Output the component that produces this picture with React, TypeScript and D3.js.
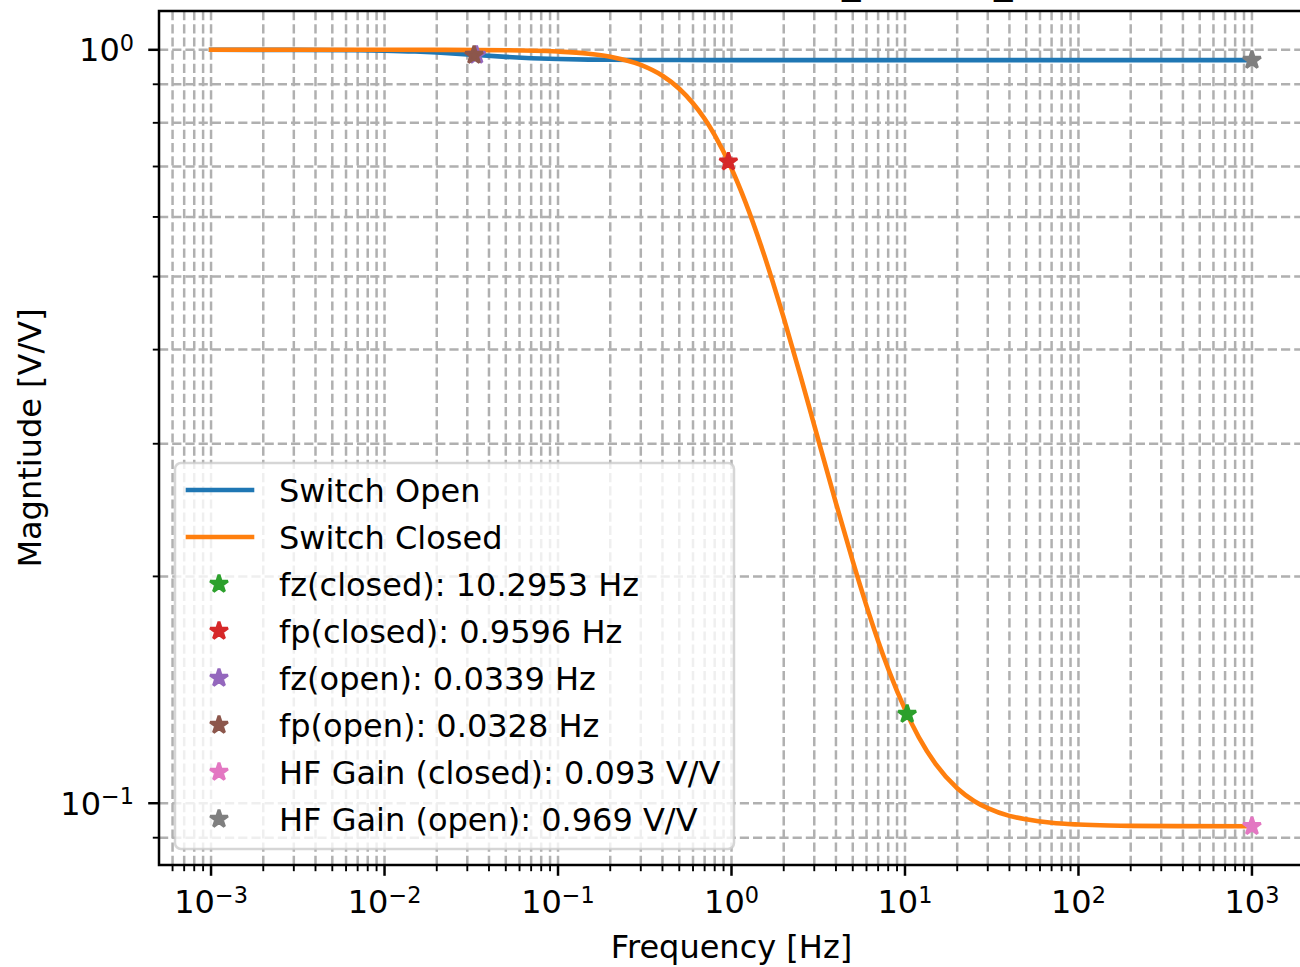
import React from 'react';
import * as d3 from 'd3';

// Switch Open response
const freqOpen = [0.001, 0.003, 0.007, 0.01, 0.015, 0.02, 0.03, 0.0339, 0.05, 0.07, 0.1, 0.15, 0.2, 0.5, 1, 10, 100, 1000];
const magOpen = [1.0, 0.9998, 0.9987, 0.9974, 0.9947, 0.9917, 0.986, 0.9841, 0.9785, 0.9747, 0.9721, 0.9705, 0.9699, 0.9692, 0.969, 0.969, 0.969, 0.969];

// Switch Closed response (orange curve)
const freqClosed = [0.001, 0.01, 0.05, 0.1, 0.15, 0.2, 0.3, 0.4, 0.5, 0.7, 0.8, 1, 1.2, 1.5, 2, 2.5, 3, 4, 5, 6, 7, 8, 10, 12, 15, 20, 25, 30, 40, 50, 70, 100, 150, 200, 1000];
const magClosed = [1.0, 1.0, 0.9987, 0.9946, 0.9881, 0.9791, 0.9548, 0.9237, 0.8879, 0.8098, 0.7704, 0.6957, 0.6288, 0.5446, 0.4407, 0.3688, 0.3173, 0.2503, 0.2095, 0.1828, 0.1642, 0.1508, 0.1332, 0.1224, 0.1128, 0.1047, 0.1007, 0.0985, 0.0962, 0.0952, 0.0942, 0.0937, 0.0934, 0.0933, 0.0932];

// star markers
const markerLabels = ['fz(closed): 10.2953 Hz', 'fp(closed): 0.9596 Hz', 'fz(open): 0.0339 Hz', 'fp(open): 0.0328 Hz', 'HF Gain (closed): 0.093 V/V', 'HF Gain (open): 0.969 V/V'];
const markerFreq = [10.2953, 0.9596, 0.0339, 0.0328, 1000, 1000];
const markerMag = [0.1313, 0.7102, 0.9841, 0.9839, 0.0932, 0.969];
const markerColors = ['#2ca02c', '#d62728', '#9467bd', '#8c564b', '#e377c2', '#7f7f7f'];

const xTickExp = [-3, -2, -1, 0, 1, 2, 3];
const yTickExp = [-1, 0];

const FONT = '"DejaVu Sans", Verdana, sans-serif';
const FS = 32;
const GRID = '#b0b0b0';

const starPath = (R: number) => {
  const pts: [number, number][] = [];
  for (let i = 0; i < 10; i++) {
    const r = i % 2 === 0 ? R : R * 0.381966;
    const a = -Math.PI / 2 + (i * Math.PI) / 5;
    pts.push([r * Math.cos(a), r * Math.sin(a)]);
  }
  return 'M' + pts.map(p => p[0].toFixed(2) + ',' + p[1].toFixed(2)).join('L') + 'Z';
};

const minorTicks = (lo: number, hi: number) => {
  const out: number[] = [];
  for (let e = Math.floor(lo); e <= Math.ceil(hi); e++) {
    for (let k = 2; k <= 9; k++) {
      const v = k * Math.pow(10, e);
      const l = Math.log10(v);
      if (l >= lo && l <= hi) out.push(v);
    }
  }
  return out;
};

export default function App() {
  const left = 159, right = 1304, top = 11, bottom = 865;
  const xLo = -3.3, xHi = 3.3, yLo = -1.082, yHi = 0.0515;

  const x = d3.scaleLog().domain([Math.pow(10, xLo), Math.pow(10, xHi)]).range([left, right]);
  const y = d3.scaleLog().domain([Math.pow(10, yLo), Math.pow(10, yHi)]).range([bottom, top]);

  const line = d3.line<[number, number]>()
    .x(d => x(d[0]))
    .y(d => y(d[1]))
    .curve(d3.curveMonotoneX);

  const openPath = line(freqOpen.map((f, i) => [f, magOpen[i]]))!;
  const closedPath = line(freqClosed.map((f, i) => [f, magClosed[i]]))!;

  const xMajor = xTickExp.map(e => Math.pow(10, e));
  const yMajor = yTickExp.map(e => Math.pow(10, e));
  const xMinor = minorTicks(xLo, xHi);
  const yMinor = minorTicks(yLo, yHi);

  const star = starPath(9.3);
  const dash = '9.2,4';

  // legend layout
  const lgX = 175, lgY = 463, lgW = 559, lgH = 386;
  const rowY = (i: number) => 490 + i * 47;
  const legendItems = [
    { label: 'Switch Open', color: '#1f77b4', kind: 'line' },
    { label: 'Switch Closed', color: '#ff7f0e', kind: 'line' },
    ...markerLabels.map((l, i) => ({ label: l, color: markerColors[i], kind: 'star' })),
  ];

  return (
    <div style={{ position: 'absolute', left: 0, top: 0 }}>
      <svg width={1300} height={967} style={{ display: 'block', background: '#fff' }} fontFamily={FONT}>
        <rect width={1300} height={967} fill="#fff" />
        {/* title sits above the figure; only its underscores peek in */}
        <text x={842} y={-7.4} fontSize={37} fill="#000">_</text>
        <text x={994} y={-7.4} fontSize={37} fill="#000">_</text>

        <defs>
          <clipPath id="plotArea">
            <rect x={left} y={top} width={right - left} height={bottom - top} />
          </clipPath>
        </defs>

        {/* grid */}
        <g stroke={GRID} strokeWidth={2.5} strokeDasharray={dash} fill="none">
          {[...xMajor, ...xMinor].map((v, i) => (
            <line key={'gx' + i} x1={x(v)} x2={x(v)} y1={bottom} y2={top} />
          ))}
          {[...yMajor, ...yMinor].map((v, i) => (
            <line key={'gy' + i} x1={left} x2={right} y1={y(v)} y2={y(v)} />
          ))}
        </g>

        {/* curves */}
        <g clipPath="url(#plotArea)" fill="none" strokeWidth={4.6} strokeLinejoin="round" strokeLinecap="square">
          <path d={openPath} stroke="#1f77b4" />
          <path d={closedPath} stroke="#ff7f0e" />
        </g>

        {/* markers */}
        <g>
          {markerFreq.map((f, i) => (
            <path key={'m' + i} d={star} transform={`translate(${x(f)},${y(markerMag[i])})`}
              fill={markerColors[i]} stroke={markerColors[i]} strokeWidth={3} strokeLinejoin="bevel" />
          ))}
        </g>

        {/* spines */}
        <rect x={left} y={top} width={right - left} height={bottom - top} fill="none" stroke="#000" strokeWidth={2.5} />

        {/* ticks */}
        <g stroke="#000">
          {xMajor.map((v, i) => (
            <line key={'xt' + i} x1={x(v)} x2={x(v)} y1={bottom} y2={bottom + 10.8} strokeWidth={2.5} />
          ))}
          {xMinor.map((v, i) => (
            <line key={'xm' + i} x1={x(v)} x2={x(v)} y1={bottom} y2={bottom + 6.2} strokeWidth={1.9} />
          ))}
          {yMajor.map((v, i) => (
            <line key={'yt' + i} x1={left - 10.8} x2={left} y1={y(v)} y2={y(v)} strokeWidth={2.5} />
          ))}
          {yMinor.map((v, i) => (
            <line key={'ym' + i} x1={left - 6.2} x2={left} y1={y(v)} y2={y(v)} strokeWidth={1.9} />
          ))}
        </g>

        {/* tick labels */}
        <g fontSize={FS} fill="#000">
          {xTickExp.map((e, i) => (
            <text key={'xl' + i} x={x(Math.pow(10, e))} y={913.3} textAnchor="middle">
              10<tspan dy={-10.5} fontSize={FS * 0.7}>{e < 0 ? '\u2212' + Math.abs(e) : String(e)}</tspan>
            </text>
          ))}
          {yTickExp.map((e, i) => (
            <text key={'yl' + i} x={134} y={y(Math.pow(10, e)) + 11.5} textAnchor="end">
              10<tspan dy={-10.5} fontSize={FS * 0.7}>{e < 0 ? '\u2212' + Math.abs(e) : String(e)}</tspan>
            </text>
          ))}
        </g>

        {/* axis labels */}
        <text x={(left + right) / 2} y={958} textAnchor="middle" fontSize={FS}>Frequency [Hz]</text>
        <text transform={`translate(41,${(top + bottom) / 2}) rotate(-90)`} textAnchor="middle" fontSize={FS}>Magntiude [V/V]</text>

        {/* legend */}
        <g>
          <rect x={lgX} y={lgY} width={lgW} height={lgH} rx={6} fill="#fff" fillOpacity={0.8}
            stroke="#cccccc" strokeOpacity={0.8} strokeWidth={2.5} />
          {legendItems.map((it, i) => (
            <g key={'lg' + i}>
              {it.kind === 'line' ? (
                <line x1={188} x2={252} y1={rowY(i)} y2={rowY(i)} stroke={it.color} strokeWidth={4.6} strokeLinecap="square" />
              ) : (
                <path d={star} transform={`translate(219,${rowY(i)})`} fill={it.color} stroke={it.color} strokeWidth={3} strokeLinejoin="bevel" />
              )}
              <text x={279} y={rowY(i) + 11.5} fontSize={FS} fill="#000">{it.label}</text>
            </g>
          ))}
        </g>
      </svg>
    </div>
  );
}
